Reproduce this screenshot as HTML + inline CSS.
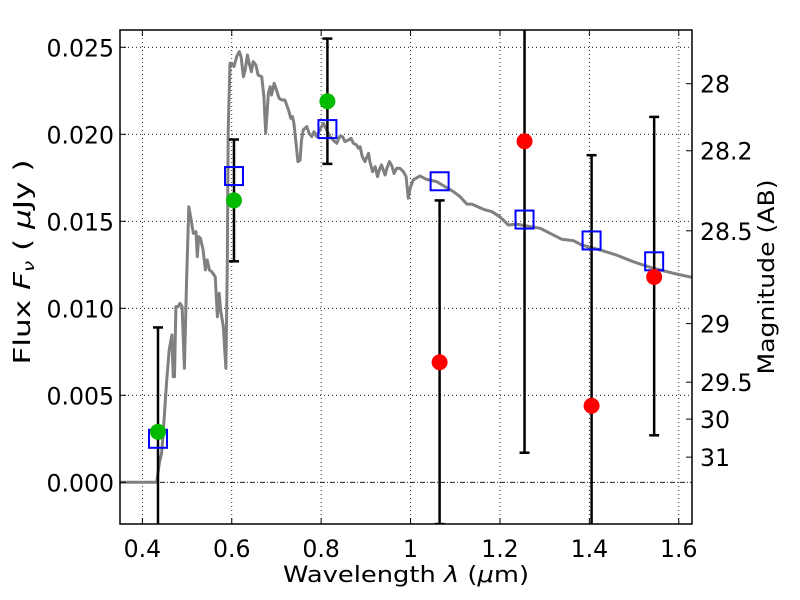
<!DOCTYPE html>
<html><head><meta charset="utf-8"><style>
html,body{margin:0;padding:0;background:#fff;width:800px;height:600px;overflow:hidden}
#wrap{position:relative;width:800px;height:600px;overflow:hidden}
svg{position:absolute;left:0;top:0;display:block;overflow:hidden}
svg text{font-family:"DejaVu Sans","Liberation Sans",sans-serif;fill:#000}
</style></head><body><div id="wrap">
<svg id="c" width="800" height="600" xmlns="http://www.w3.org/2000/svg"></svg>
<svg width="800" height="600" xmlns="http://www.w3.org/2000/svg">
<text x="406" y="582" text-anchor="middle" font-size="22" textLength="246" lengthAdjust="spacingAndGlyphs">Wavelength  <tspan font-style="italic">λ</tspan> (<tspan font-style="italic">μ</tspan>m)</text>
<text transform="translate(30,262) rotate(-90)" text-anchor="middle" font-size="23" textLength="205" lengthAdjust="spacingAndGlyphs">Flux  <tspan font-style="italic">F</tspan><tspan font-style="italic" font-size="15" dy="4">ν</tspan><tspan dy="-4">  ( </tspan><tspan font-style="italic">μ</tspan>Jy )</text>
<text transform="translate(774,277) rotate(-90)" text-anchor="middle" font-size="22" textLength="195" lengthAdjust="spacingAndGlyphs">Magnitude (AB)</text>
</svg>
</div>
<script>
const specLam=[0.35,0.432,0.438,0.443,0.447,0.454,0.460,0.466,0.469,0.472,0.475,0.480,0.484,0.489,0.494,0.499,0.504,0.508,0.514,0.520,0.523,0.526,0.530,0.536,0.541,0.545,0.550,0.555,0.563,0.568,0.572,0.575,0.581,0.587,0.590,0.592,0.596,0.600,0.605,0.611,0.617,0.621,0.626,0.630,0.635,0.639,0.644,0.648,0.654,0.659,0.667,0.672,0.676,0.682,0.686,0.689,0.695,0.700,0.706,0.712,0.719,0.727,0.732,0.736,0.739,0.743,0.748,0.753,0.756,0.760,0.768,0.773,0.779,0.784,0.790,0.797,0.805,0.812,0.820,0.827,0.835,0.841,0.848,0.853,0.861,0.867,0.872,0.879,0.883,0.887,0.892,0.898,0.906,0.909,0.915,0.921,0.926,0.930,0.935,0.943,0.947,0.953,0.959,0.963,0.969,0.976,0.984,0.990,0.995,0.999,1.006,1.021,1.036,1.058,1.096,1.111,1.126,1.137,1.163,1.182,1.200,1.219,1.237,1.290,1.338,1.364,1.383,1.424,1.461,1.498,1.543,1.595,1.629];
const specFlux=[0,0,1.09,1.67,3.01,5.69,7.61,8.47,6.07,6.07,10.10,10.10,10.29,10.10,6.55,11.63,15.84,15.27,14.31,14.41,12.97,14.12,14.02,13.35,12.20,12.78,12.20,12.11,11.82,9.52,10.86,9.90,8.95,6.55,12.59,20.25,24.08,24.08,23.89,24.46,24.75,24.46,23.31,23.70,24.56,24.08,23.60,24.18,23.98,23.41,23.31,22.16,20.06,22.36,22.74,22.26,22.93,22.55,22.07,21.97,21.97,21.40,20.92,21.02,20.63,19.67,18.43,18.52,19.67,20.25,20.44,20.06,19.87,20.15,19.87,20.25,20.63,20.25,19.87,19.67,19.48,19.87,19.87,19.58,19.67,19.77,19.48,19.39,19.20,19.29,18.72,18.43,18.91,18.43,17.85,18.14,17.57,17.95,18.24,17.66,18.05,18.43,18.14,17.75,18.05,18.05,17.85,17.57,16.32,16.90,17.38,17.61,17.41,17.28,16.70,16.41,15.99,15.99,15.69,15.55,15.26,14.79,14.84,14.60,13.97,13.89,13.64,13.35,13.06,12.68,12.30,11.97,11.78];
const bandLam=[0.435,0.605,0.814,1.065,1.255,1.405,1.545];
const modelFlux=[0.0025,0.0176,0.0203,0.0173,0.0151,0.0139,0.0127];
const obsFlux=[0.0029,0.0162,0.0219,0.0069,0.0196,0.0044,0.0118];
const errLow=[-0.01,0.0127,0.0183,-0.0024,0.0017,-0.01,0.0027];
const errHigh=[0.0089,0.0197,0.0255,0.0162,0.03,0.0188,0.0210];
const obsColor=['#00bb00','#00bb00','#00bb00','red','red','red','red'];
const xTicks=[0.4,0.6,0.8,1.0,1.2,1.4,1.6];
const xTickLabels=['0.4','0.6','0.8','1','1.2','1.4','1.6'];
const yTicks=[0,0.005,0.01,0.015,0.02,0.025];
const yTickLabels=['0.000','0.005','0.010','0.015','0.020','0.025'];
const magTicks=[28,28.2,28.5,29,29.5,30,31];
const magTickLabels=['28','28.2','28.5','29','29.5','30','31'];

const L=120,R=692,T=30,B=524;
const X=v=>L+(v-0.35)*447;
const Y=v=>482.3-v*17400;
const NS='http://www.w3.org/2000/svg';
const svg=document.getElementById('c');
function mk(tag,attrs,parent){const e=document.createElementNS(NS,tag);for(const k in attrs)e.setAttribute(k,attrs[k]);(parent||svg).appendChild(e);return e;}
function tlen(s){let w=0;for(const ch of s)w+=(ch==='.'?7.5:15);return w;}
const defs=mk('defs',{});const cp=mk('clipPath',{id:'clip'},defs);mk('rect',{x:L,y:T,width:R-L,height:B-T},cp);
const g=mk('g',{'clip-path':'url(#clip)'});


xTicks.forEach(t=>{const l=mk('line',{x1:X(t),x2:X(t),y1:T,y2:B,stroke:'#000','stroke-width':0.8,'stroke-dasharray':'1,3'},g);

});
yTicks.forEach(t=>{const l=mk('line',{x1:L,x2:R,y1:Y(t),y2:Y(t),stroke:'#000','stroke-width':0.8,'stroke-dasharray':t===0?'5,2,1,2':'1,3'},g);

});
let d='';specLam.forEach((v,i)=>{d+=(i?'L':'M')+X(v).toFixed(1)+','+Y(specFlux[i]/1000).toFixed(1);});
const sp=mk('path',{d:d,fill:'none',stroke:'#808080','stroke-width':3,'stroke-linejoin':'round'},g);


bandLam.forEach((v,i)=>{const x=X(v);
const e=mk('g',{},g);


mk('line',{x1:x,x2:x,y1:Y(errLow[i]),y2:Y(errHigh[i]),stroke:'#000','stroke-width':2.5},e);
[errLow[i],errHigh[i]].forEach(q=>mk('line',{x1:x-5,x2:x+5,y1:Y(q),y2:Y(q),stroke:'#000','stroke-width':2.5},e));});
bandLam.forEach((v,i)=>{const s=mk('rect',{x:X(v)-9,y:Y(modelFlux[i])-9,width:18,height:18,fill:'none',stroke:'#0000ff','stroke-width':2},g);

});
bandLam.forEach((v,i)=>{const c=mk('circle',{cx:X(v),cy:Y(obsFlux[i]),r:8,fill:obsColor[i]},g);

});
const fr=mk('rect',{x:L,y:T,width:R-L,height:B-T,fill:'none',stroke:'#000','stroke-width':1.5});


xTicks.forEach((t,i)=>{const x=X(t);
mk('line',{x1:x,x2:x,y1:B,y2:B-6,stroke:'#000'});mk('line',{x1:x,x2:x,y1:T,y2:T+6,stroke:'#000'});
const tx=mk('text',{x:x,y:B+33,'text-anchor':'middle','font-size':24,textLength:tlen(xTickLabels[i]),lengthAdjust:'spacingAndGlyphs'});tx.textContent=xTickLabels[i];

});
yTicks.forEach((t,i)=>{const y=Y(t);
mk('line',{x1:L,x2:L+6,y1:y,y2:y,stroke:'#000'});
const tx=mk('text',{x:L-6,y:y+9,'text-anchor':'end','font-size':24,textLength:tlen(yTickLabels[i]),lengthAdjust:'spacingAndGlyphs'});tx.textContent=yTickLabels[i];

});
magTicks.forEach((m,i)=>{const y=Y(Math.pow(10,(23.9-m)/2.5));
mk('line',{x1:R,x2:R-6,y1:y,y2:y,stroke:'#000'});
const tx=mk('text',{x:R+8,y:y+9,'font-size':24,textLength:tlen(magTickLabels[i]),lengthAdjust:'spacingAndGlyphs'});tx.textContent=magTickLabels[i];

});
</script>
</body></html>
